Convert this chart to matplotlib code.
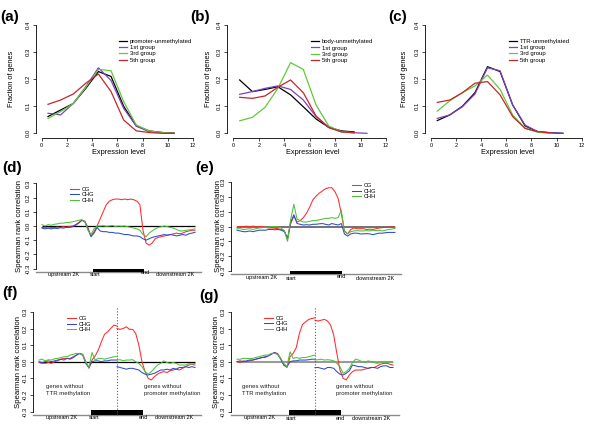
import numpy as np
import matplotlib
matplotlib.use('Agg')
import matplotlib.pyplot as plt

plt.rcParams['font.family'] = ['Liberation Sans', 'DejaVu Sans']

W, H = 600, 443

# ---- data: expression level histograms (a)-(c)
expr_level = [0.5, 1.5, 2.5, 3.5, 4.5, 5.5, 6.5, 7.5, 8.5, 9.5, 10.5]
group_labels = ['1st group', '3rd group', '5th group']

a_unmeth = [0.062, 0.086, 0.110, 0.166, 0.228, 0.210, 0.100, 0.027, 0.009, 0.003, 0.0]
a_g1 = [0.074, 0.068, 0.110, 0.172, 0.242, 0.195, 0.092, 0.027, 0.006, 0.003, 0.0]
a_g3 = [0.055, 0.080, 0.110, 0.170, 0.236, 0.231, 0.117, 0.031, 0.009, 0.003, 0.0]
a_g5 = [0.107, 0.123, 0.145, 0.185, 0.219, 0.154, 0.049, 0.009, 0.003, 0.0, 0.0]

b_unmeth = [0.197, 0.154, 0.162, 0.172, 0.142, 0.098, 0.053, 0.022, 0.009, 0.005]
b_g1 = [0.144, 0.154, 0.166, 0.175, 0.162, 0.123, 0.062, 0.022, 0.006, 0.002, 0.0]
b_g3 = [0.046, 0.059, 0.096, 0.166, 0.261, 0.236, 0.105, 0.027, 0.006, 0.002]
b_g5 = [0.133, 0.129, 0.138, 0.170, 0.197, 0.150, 0.064, 0.021, 0.005, 0.002]

c_unmeth = [0.047, 0.068, 0.100, 0.150, 0.246, 0.228, 0.105, 0.027, 0.006, 0.002, 0.0]
c_g1 = [0.055, 0.068, 0.098, 0.145, 0.242, 0.231, 0.105, 0.030, 0.006, 0.002, 0.0]
c_g3 = [0.082, 0.120, 0.150, 0.175, 0.215, 0.162, 0.068, 0.018, 0.004, 0.0]
c_g5 = [0.114, 0.123, 0.150, 0.185, 0.191, 0.142, 0.062, 0.018, 0.006, 0.002]

# ---- data: correlation profiles (d)-(g); bins 0-100 upstream, 100-200 gene body, 200-300 downstream
profile_bins = list(range(0, 301, 6))
body_start, body_end = 100, 200
context_labels = ['CG', 'CHG', 'CHH']

d_cg = [-0.01, -0.01, -0.015, -0.01, -0.012, -0.008, -0.01, -0.005, -0.008, -0.003,
        0.0, 0.01, 0.025, 0.04, 0.035, -0.01, -0.07, -0.04, 0.0, 0.05,
        0.1, 0.15, 0.175, 0.185, 0.19, 0.19, 0.185, 0.19, 0.185, 0.19,
        0.185, 0.175, 0.15, -0.03, -0.12, -0.135, -0.12, -0.09, -0.08, -0.075,
        -0.07, -0.065, -0.06, -0.055, -0.05, -0.055, -0.05, -0.04, -0.035, -0.03, -0.03]
d_chg = [-0.015, -0.02, -0.015, -0.02, -0.015, -0.018, -0.012, -0.015, -0.01, -0.01,
         -0.005, 0.005, 0.02, 0.04, 0.03, -0.02, -0.075, -0.05, -0.01, -0.035,
         -0.04, -0.04, -0.045, -0.045, -0.05, -0.05, -0.055, -0.06, -0.06, -0.065,
         -0.07, -0.07, -0.075, -0.09, -0.1, -0.09, -0.08, -0.075, -0.07, -0.065,
         -0.06, -0.065, -0.06, -0.065, -0.07, -0.065, -0.06, -0.065, -0.055, -0.05, -0.045]
d_chh = [0.01, 0.0, 0.01, 0.005, 0.012, 0.015, 0.02, 0.02, 0.025, 0.025,
         0.03, 0.035, 0.04, 0.045, 0.03, -0.03, -0.06, -0.02, 0.0, 0.0,
         0.002, -0.002, 0.0, 0.003, -0.003, 0.0, -0.002, 0.0, -0.005, -0.01,
         -0.015, -0.02, -0.03, -0.06, -0.075, -0.05, -0.035, -0.02, -0.01, -0.005,
         0.0, -0.005, -0.01, -0.015, -0.025, -0.035, -0.035, -0.03, -0.028, -0.025, -0.02]

e_cg = [-0.005, 0.0, 0.0, 0.002, 0.0, 0.002, 0.0, -0.002, 0.0, -0.005,
        -0.01, -0.01, -0.012, -0.015, -0.02, -0.03, -0.085, 0.02, 0.07, 0.03,
        0.04, 0.06, 0.09, 0.13, 0.18, 0.205, 0.225, 0.24, 0.255, 0.262,
        0.262, 0.235, 0.19, 0.09, -0.03, -0.05, -0.02, -0.01, -0.015, -0.015,
        -0.015, -0.02, -0.018, -0.02, -0.015, -0.01, -0.008, -0.005, -0.005, -0.003, -0.005]
e_chg = [-0.025, -0.03, -0.035, -0.035, -0.03, -0.035, -0.03, -0.025, -0.025, -0.025,
         -0.02, -0.02, -0.022, -0.02, -0.025, -0.035, -0.08, 0.03, 0.08, 0.02,
         0.015, 0.01, 0.012, 0.01, 0.015, 0.015, 0.018, 0.02, 0.015, 0.01,
         0.02, 0.015, 0.01, 0.02, -0.05, -0.065, -0.05, -0.045, -0.045, -0.05,
         -0.05, -0.048, -0.05, -0.055, -0.05, -0.045, -0.045, -0.042, -0.04, -0.04, -0.04]
e_chh = [-0.015, -0.015, -0.02, -0.018, -0.015, -0.02, -0.015, -0.01, -0.008, -0.005,
         -0.005, 0.0, 0.0, -0.002, -0.01, -0.03, -0.1, 0.05, 0.15, 0.05,
         0.04, 0.03, 0.03, 0.035, 0.04, 0.04, 0.045, 0.05, 0.055, 0.055,
         0.06, 0.055, 0.06, 0.11, -0.03, -0.05, -0.035, -0.03, -0.028, -0.03,
         -0.03, -0.028, -0.03, -0.025, -0.028, -0.025, -0.03, -0.025, -0.02, -0.018, -0.012]

# (f) and (g): left half = genes without TTR methylation, right half = genes without promoter methylation
f_cg_left = [-0.005, -0.01, -0.01, -0.005, -0.01, 0.0, 0.005, 0.015, 0.02, 0.02,
             0.02, 0.03, 0.04, 0.05, 0.045, 0.0, -0.04, 0.01, 0.035, 0.07,
             0.12, 0.165, 0.18, 0.2, 0.22, 0.215]
f_cg_right = [0.2, 0.195, 0.2, 0.21, 0.195, 0.195, 0.17, 0.1, 0.0, -0.06,
              -0.1, -0.11, -0.09, -0.075, -0.065, -0.06, -0.065, -0.055, -0.05, -0.045,
              -0.05, -0.04, -0.03, -0.02, -0.015, -0.02]
f_chg_left = [0.0, -0.005, 0.0, 0.005, 0.0, 0.005, 0.01, 0.015, 0.01, 0.02,
              0.015, 0.025, 0.04, 0.05, 0.04, -0.01, -0.035, 0.0, 0.005, 0.005,
              0.0, 0.005, 0.005, 0.01, 0.01, 0.01]
f_chg_right = [-0.03, -0.035, -0.04, -0.045, -0.04, -0.04, -0.045, -0.05, -0.065, -0.075,
               -0.08, -0.075, -0.07, -0.06, -0.05, -0.05, -0.045, -0.05, -0.04, -0.045,
               -0.035, -0.035, -0.03, -0.035, -0.03, -0.035]
f_chh_left = [0.01, 0.015, 0.005, 0.012, 0.01, 0.018, 0.02, 0.025, 0.03, 0.03,
              0.04, 0.045, 0.05, 0.048, 0.04, 0.0, -0.035, 0.055, 0.01, 0.02,
              0.02, 0.015, 0.02, 0.025, 0.03, 0.03]
f_chh_right = [0.01, 0.012, 0.005, 0.01, 0.01, 0.012, 0.0, -0.01, -0.03, -0.06,
               -0.075, -0.06, -0.04, -0.02, -0.01, 0.005, -0.005, -0.01, -0.005, -0.01,
               -0.02, -0.02, -0.02, -0.012, -0.015, -0.01]

g_cg_left = [0.0, -0.005, 0.005, 0.0, 0.005, 0.01, 0.015, 0.02, 0.025, 0.025,
             0.035, 0.045, 0.055, 0.05, 0.02, -0.02, -0.035, 0.03, 0.05, 0.085,
             0.17, 0.225, 0.24, 0.255, 0.26, 0.265]
g_cg_right = [0.25, 0.245, 0.25, 0.255, 0.245, 0.22, 0.16, 0.05, -0.05, -0.1,
              -0.11, -0.08, -0.06, -0.05, -0.05, -0.05, -0.045, -0.04, -0.035, -0.035,
              -0.025, -0.015, -0.01, -0.01, -0.015, -0.02]
g_chg_left = [0.0, 0.005, 0.0, 0.005, 0.01, 0.01, 0.015, 0.02, 0.025, 0.03,
              0.035, 0.045, 0.055, 0.045, 0.015, -0.02, -0.03, 0.0, 0.005, 0.005,
              0.01, 0.01, 0.01, 0.012, 0.015, 0.015]
g_chg_right = [-0.035, -0.035, -0.04, -0.045, -0.035, -0.035, -0.04, -0.06, -0.075, -0.08,
               -0.07, -0.055, -0.02, -0.025, -0.03, -0.03, -0.035, -0.04, -0.035, -0.035,
               -0.04, -0.03, -0.025, -0.025, -0.035, -0.035]
g_chh_left = [0.015, 0.015, 0.02, 0.02, 0.018, 0.02, 0.025, 0.03, 0.035, 0.04,
              0.04, 0.05, 0.05, 0.045, 0.02, -0.01, -0.03, 0.06, 0.02, 0.025,
              0.02, 0.025, 0.025, 0.03, 0.035, 0.04]
g_chh_right = [0.01, 0.012, 0.015, 0.01, 0.012, 0.01, 0.005, -0.01, -0.03, -0.07,
               -0.06, -0.04, -0.005, 0.015, 0.01, 0.0, -0.005, 0.005, 0.0, -0.005,
               -0.01, -0.005, 0.0, -0.005, 0.0, -0.005]

hist_colors = ['black', '#8040c0', '#62c83e', '#c4262a']
ctx_colors = ['#ff2a2a', '#2b4bcf', '#4cc13a']

fig = plt.figure(figsize=(W / 100, H / 100), dpi=100)


def make_axes(xr, px, yr, py, pad=0.04):
    # place axes so that data range xr -> pixels px, yr -> pixels py (R-like 4% padding)
    sx = (px[1] - px[0]) / (xr[1] - xr[0])
    sy = (py[0] - py[1]) / (yr[1] - yr[0])
    dx = pad * (xr[1] - xr[0])
    dy = pad * (yr[1] - yr[0])
    left, right = px[0] - dx * sx, px[1] + dx * sx
    bottom, top = py[0] + dy * sy, py[1] - dy * sy
    ax = fig.add_axes([left / W, 1 - bottom / H, (right - left) / W, (bottom - top) / H])
    ax.set_xlim(xr[0] - dx, xr[1] + dx)
    ax.set_ylim(yr[0] - dy, yr[1] + dy)
    ax.patch.set_alpha(0)
    for s in ['top', 'right']:
        ax.spines[s].set_visible(False)
    ax.tick_params(direction='out', length=2.5, width=0.5, labelsize=4.3, pad=1.2)
    for s in ['left', 'bottom']:
        ax.spines[s].set_linewidth(0.6)
    return ax


def ftext(x, y, s, **kw):
    fig.text(x / W, 1 - y / H, s, **kw)


def hist_panel(px, series, labels, leg_xy, ylab_x, xlab_x):
    ax = make_axes((0, 12), px, (0, 0.4), (133.3, 25))
    for vals, lab, col in zip(series, labels, hist_colors):
        ax.plot(expr_level[:len(vals)], vals, color=col, lw=0.9, label=lab)
    ax.spines['left'].set_bounds(0, 0.4)
    ax.spines['bottom'].set_bounds(0, 12)
    ax.set_xticks(range(0, 13, 2))
    ax.set_yticks([0, 0.1, 0.2, 0.3, 0.4])
    ax.set_yticklabels(['0.0', '0.1', '0.2', '0.3', '0.4'], rotation=90, va='center')
    ax.tick_params(axis='x', labelsize=4.0)
    ax.legend(loc='upper left', bbox_to_anchor=(leg_xy[0] / W, 1 - leg_xy[1] / H),
              bbox_transform=fig.transFigure, frameon=False, fontsize=4.3,
              handlelength=1.3, handletextpad=0.5, labelspacing=0.2,
              borderpad=0, borderaxespad=0)
    ftext(ylab_x, 79, 'Fraction of genes', rotation=90, ha='center', va='center', fontsize=5.3)
    ftext(xlab_x, 153, 'Expression level', ha='center', va='center', fontsize=5.3)
    return ax


def profile_axes(px, py, zero_color, zero_lw, bar_top):
    ax = make_axes((0, 300), px, (-0.3, 0.3), py)
    ax.spines['left'].set_bounds(-0.3, 0.3)
    ax.spines['bottom'].set_color('#8a8a8a')
    ax.spines['bottom'].set_linewidth(1.0)
    ax.set_xticks([])
    ticks = [-0.3, -0.2, -0.1, 0.0, 0.1, 0.2, 0.3]
    ax.set_yticks(ticks)
    ax.set_yticklabels(['%.1f' % t for t in ticks], rotation=90, va='center')
    ax.hlines(0, profile_bins[0], profile_bins[-1], color=zero_color, lw=zero_lw, zorder=1)
    y0 = ax.get_ylim()[0]
    ax.broken_barh([(body_start, body_end - body_start)], (y0, bar_top - y0),
                   facecolor='black', zorder=3, clip_on=False)
    return ax


def ctx_legend(ax, xy):
    ax.legend(loc='upper left', bbox_to_anchor=(xy[0] / W, 1 - xy[1] / H),
              bbox_transform=fig.transFigure, frameon=False, fontsize=4.1,
              handlelength=1.5, handletextpad=0.5, labelspacing=0.1,
              borderpad=0, borderaxespad=0)


# ---- (a)-(c)
hist_panel((41.7, 193), [a_unmeth, a_g1, a_g3, a_g5], ['promoter-unmethylated'] + group_labels,
           (119, 38.5), 12, 119)
hist_panel((233.3, 386), [b_unmeth, b_g1, b_g3, b_g5], ['body-unmethylated'] + group_labels,
           (311, 39), 209, 313)
hist_panel((431, 581.7), [c_unmeth, c_g1, c_g3, c_g5], ['TTR-unmethylated'] + group_labels,
           (509, 38.5), 405, 508)

# ---- (d), (e)
for px, py, zc, zlw, series, leg_xy, ylx, labs in [
        ((42, 195), (268.6, 183.4), 'black', 0.9, [d_cg, d_chg, d_chh], (70, 186.5), 20,
         [(64, 274.5), (95.5, 274.5), (145, 273), (175, 274.5)]),
        ((237, 395), (270.9, 182.1), '#5a5a5a', 1.2, [e_cg, e_chg, e_chh], (352, 183), 218,
         [(262, 278), (291.5, 278), (341.5, 277), (375.5, 278)])]:
    ax = profile_axes(px, py, zc, zlw, -0.3)
    for vals, lab, col in zip(series, context_labels, ctx_colors):
        ax.plot(profile_bins, vals, color=col, lw=0.75, label=lab)
    ctx_legend(ax, leg_xy)
    ftext(ylx, 226, 'Spearman rank correlation', rotation=90, ha='center', va='center', fontsize=5.6)
    for (tx, ty), s in zip(labs, ['upstream 2K', 'start', 'end', 'downstream 2K']):
        ftext(tx, ty, s, ha='center', va='center', fontsize=4.0)

# ---- (f), (g)
for px, zc, zlw, left, right, leg_xy, ylx, ttr_x, prom_x, labs in [
        ((39, 195), 'black', 0.9, [f_cg_left, f_chg_left, f_chh_left],
         [f_cg_right, f_chg_right, f_chh_right], (67, 316), 19, 46.5, 144.5,
         [(61.5, 417.5), (94, 417.5), (143, 417.5), (174.5, 417.5)]),
        ((237, 393), '#9a9a9a', 1.5, [g_cg_left, g_chg_left, g_chh_left],
         [g_cg_right, g_chg_right, g_chh_right], (264, 315.5), 216, 242.5, 336.5,
         [(260, 418), (291.5, 418), (340, 418), (371, 418)])]:
    ax = profile_axes(px, (411.5, 311.9), zc, zlw, -0.29)
    half = len(left[0])
    for vl, vr, lab, col in zip(left, right, context_labels, ctx_colors):
        ax.plot(profile_bins[:half], vl, color=col, lw=0.75, label=lab)
        ax.plot(profile_bins[half - 1:], vr, color=col, lw=0.75)
    mid = (body_start + body_end) / 2
    ax.vlines(mid, ax.get_ylim()[0], 0.33, color='#606060', lw=0.8, linestyles=':', zorder=4,
              clip_on=False)
    ctx_legend(ax, leg_xy)
    ftext(ylx, 362, 'Spearman rank correlation', rotation=90, ha='center', va='center', fontsize=5.6)
    ftext(ttr_x, 386.7, 'genes without', ha='left', va='center', fontsize=4.3, color='#222222')
    ftext(ttr_x, 393.4, 'TTR methylation', ha='left', va='center', fontsize=4.3, color='#222222')
    ftext(prom_x, 386.7, 'genes without', ha='left', va='center', fontsize=4.3, color='#222222')
    ftext(prom_x, 393.4, 'promoter methylation', ha='left', va='center', fontsize=4.3, color='#222222')
    for (tx, ty), s in zip(labs, ['upstream 2K', 'start', 'end', 'downstream 2K']):
        ftext(tx, ty, s, ha='center', va='center', fontsize=4.0)

# panel letters
for (x, y), s in zip([(0, 17), (190, 17), (388, 17), (2, 168), (195, 168), (2, 293), (199, 296)],
                     ['(a)', '(b)', '(c)', '(d)', '(e)', '(f)', '(g)']):
    ftext(x, y, s, ha='left', va='center', fontsize=11, fontweight='bold')

fig.savefig('out.png', dpi=100)
